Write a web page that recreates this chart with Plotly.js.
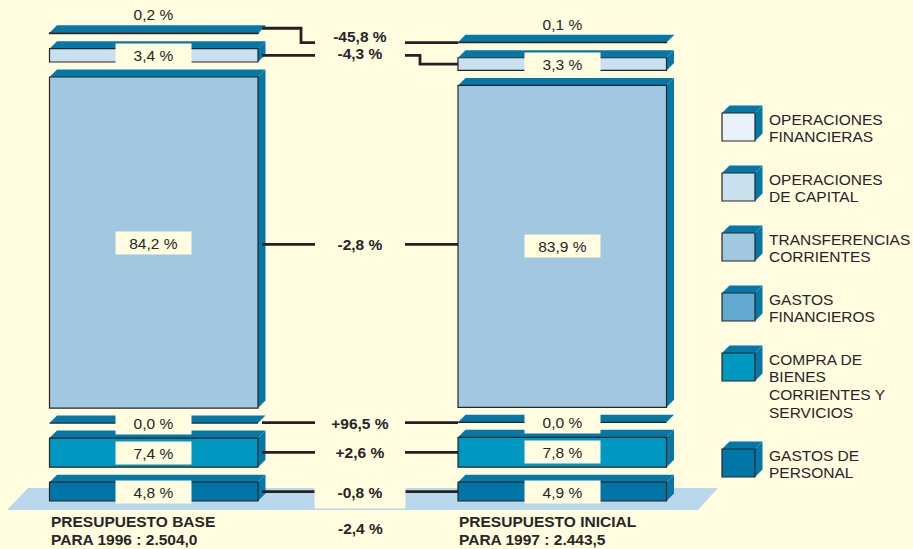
<!DOCTYPE html>
<html>
<head>
<meta charset="utf-8">
<script src="https://cdn.plot.ly/plotly-3.0.1.min.js"></script>
<style>html,body{margin:0;padding:0;background:#FFFCE0;}#chart{width:913px;height:549px;}</style>
</head>
<body>
<div id="chart"></div>
<script>
// ---------------- DATA (stack order: bottom -> top) ----------------
const categories = ['GASTOS DE PERSONAL', 'COMPRA DE BIENES CORRIENTES Y SERVICIOS', 'GASTOS FINANCIEROS',
                    'TRANSFERENCIAS CORRIENTES', 'OPERACIONES DE CAPITAL', 'OPERACIONES FINANCIERAS'];
const share1996 = [4.8, 7.4, 0.0, 84.2, 3.4, 0.2];
const share1997 = [4.9, 7.8, 0.0, 83.9, 3.3, 0.1];
const changePct = [-0.8, 2.6, 96.5, -2.8, -4.3, -45.8];
const total1996 = 2504.0;
const total1997 = 2443.5;
const totalChange = -2.4;
const columnTitles = [['PRESUPUESTO BASE', 'PARA 1996 : '], ['PRESUPUESTO INICIAL', 'PARA 1997 : ']];
// legend lines (legend is listed top -> bottom, i.e. reverse of stack order)
const legendLines = [
  ['OPERACIONES', 'FINANCIERAS'],
  ['OPERACIONES', 'DE CAPITAL'],
  ['TRANSFERENCIAS', 'CORRIENTES'],
  ['GASTOS', 'FINANCIEROS'],
  ['COMPRA DE', 'BIENES', 'CORRIENTES Y', 'SERVICIOS'],
  ['GASTOS DE', 'PERSONAL']
];

// ---------------- STYLE ----------------
const BG = '#FFFCE0';
const FACE = '#0678A8';
const FLOOR = '#B9D8EC';
const OUTLINE = '#262626';
const TXT = '#262626';
const FONT = 'Liberation Sans, Arial, Helvetica, sans-serif';
const FS = 15.5;
const fills = ['#0075A6', '#0097C1', '#62A9CF', '#A2C7E0', '#C9E0EF', '#E8F1FA']; // bottom -> top
const K = 0.157;          // px per budget unit
const BASE_PX = 501;      // pixel row of stack bottom
const U = py => (BASE_PX - py) / K;   // pixel row -> y units
const GAP = 15 / K;
const DX = 7.5, DY = 7.5 / K;
const COLW = 208.5;

function fmt(v, dec) {
  const s = Math.abs(v).toFixed(dec).split('.');
  const int = s[0].replace(/\B(?=(\d{3})+(?!\d))/g, '.');
  return (v < 0 ? '-' : '') + int + (dec ? ',' + s[1] : '');
}
const pct = v => fmt(v, 1) + ' %';
const sgnPct = v => (v > 0 ? '+' : '') + fmt(v, 1) + ' %';

const cols = [
  {x0: 49.5, shares: share1996, total: total1996},
  {x0: 458, shares: share1997, total: total1997}
];
const geo = cols.map(c => {
  let cum = 0;
  return c.shares.map(s => {
    const h = s * c.total / 100;
    const g = {u0: cum, u1: cum + h};
    cum += h + GAP;
    return g;
  });
});

const shapes = [];
const annotations = [];

// floor
shapes.push({type: 'path', xref: 'x', yref: 'y', layer: 'above',
  path: `M 7,${U(510)} L 28,${U(488)} L 718,${U(488)} L 698,${U(510)} Z`,
  fillcolor: FLOOR, line: {width: 0}});

// bars
cols.forEach((c, ci) => {
  const x0 = c.x0, x1 = c.x0 + COLW;
  geo[ci].forEach((g, i) => {
    shapes.push({type: 'path', xref: 'x', yref: 'y', layer: 'above',
      path: `M ${x1},${g.u1} L ${x1 + DX},${g.u1 + DY} L ${x1 + DX},${g.u0 + DY} L ${x1},${g.u0} Z`,
      fillcolor: FACE, line: {width: 0}});
    shapes.push({type: 'path', xref: 'x', yref: 'y', layer: 'above',
      path: `M ${x0},${g.u1} L ${x0 + DX},${g.u1 + DY} L ${x1 + DX},${g.u1 + DY} L ${x1},${g.u1} Z`,
      fillcolor: FACE, line: {width: 0}});
    shapes.push({type: 'rect', xref: 'x', yref: 'y', layer: 'above',
      x0: x0, x1: x1, y0: g.u0, y1: g.u1,
      fillcolor: fills[i], line: {color: OUTLINE, width: 1.2}});
    const top = i === geo[ci].length - 1;
    annotations.push({xref: 'x', yref: 'y', x: (x0 + x1) / 2,
      y: top ? g.u1 + DY + 11 / K : (g.u0 + g.u1) / 2,
      text: pct(c.shares[i]), showarrow: false,
      font: {family: FONT, size: FS, color: TXT},
      bgcolor: top ? 'rgba(0,0,0,0)' : BG, width: 75, height: 22, borderpad: 0,
      xanchor: 'center', yanchor: 'middle'});
  });
});

// connectors + change labels
const LX = 262, MX0 = 315, MX1 = 405, RX = 458;
const lineStyle = {color: '#222', width: 2.8};
changePct.forEach((ch, i) => {
  const yL = (geo[0][i].u0 + geo[0][i].u1) / 2;
  const yR = (geo[1][i].u0 + geo[1][i].u1) / 2;
  let paths, yLab;
  if (i === categories.length - 1) {
    const yl = yL + 5 / K;
    paths = [`M ${LX},${yl} L 301,${yl} L 301,${yR} L ${MX0},${yR}`,
             `M ${MX1},${yR} L ${RX},${yR}`];
    yLab = yR + 7 / K;
  } else if (i === categories.length - 2) {
    paths = [`M ${LX},${yL} L ${MX0},${yL}`,
             `M ${MX1},${yL} L 420,${yL} L 420,${yR} L ${RX},${yR}`];
    yLab = yL + 2 / K;
  } else {
    const ym = (yL + yR) / 2;
    paths = [`M ${LX},${ym} L ${MX0},${ym}`, `M ${MX1},${ym} L ${RX},${ym}`];
    yLab = ym;
  }
  paths.forEach(p => shapes.push({type: 'path', xref: 'x', yref: 'y', layer: 'above',
    path: p, line: lineStyle}));
  annotations.push({xref: 'x', yref: 'y', x: 360, y: yLab, text: '<b>' + sgnPct(ch) + '</b>',
    showarrow: false, font: {family: FONT, size: FS, color: TXT},
    bgcolor: i === 0 ? BG : 'rgba(0,0,0,0)', width: 90, height: i === 0 ? 32 : 18, borderpad: 0,
    xanchor: 'center', yanchor: 'middle'});
});
annotations.push({xref: 'x', yref: 'y', x: 360, y: U(528), text: '<b>' + sgnPct(totalChange) + '</b>',
  showarrow: false, font: {family: FONT, size: FS, color: TXT}, xanchor: 'center', yanchor: 'middle'});

// column titles
const totals = [total1996, total1997];
cols.forEach((c, ci) => {
  const lines = [columnTitles[ci][0], columnTitles[ci][1] + fmt(totals[ci], 1)];
  lines.forEach((t, li) => annotations.push({xref: 'x', yref: 'y', x: c.x0 - 1, y: U(521 + li * 18.3),
    text: '<b>' + t + '</b>', showarrow: false, font: {family: FONT, size: FS, color: TXT},
    xanchor: 'left', yanchor: 'middle'}));
});

// legend
let ly = 113;
legendLines.forEach((lines, li) => {
  const fi = fills.length - 1 - li;
  const x0 = 722, x1 = 755, yT = ly, yB = ly + 28;
  shapes.push({type: 'path', xref: 'x', yref: 'y', layer: 'above',
    path: `M ${x1},${U(yT)} L ${x1 + 7.5},${U(yT - 7.5)} L ${x1 + 7.5},${U(yB - 7.5)} L ${x1},${U(yB)} Z`,
    fillcolor: FACE, line: {width: 0}});
  shapes.push({type: 'path', xref: 'x', yref: 'y', layer: 'above',
    path: `M ${x0},${U(yT)} L ${x0 + 7.5},${U(yT - 7.5)} L ${x1 + 7.5},${U(yT - 7.5)} L ${x1},${U(yT)} Z`,
    fillcolor: FACE, line: {width: 0}});
  shapes.push({type: 'rect', xref: 'x', yref: 'y', layer: 'above',
    x0: x0, x1: x1, y0: U(yB), y1: U(yT), fillcolor: fills[fi], line: {color: OUTLINE, width: 1.2}});
  lines.forEach((t, k) => annotations.push({xref: 'x', yref: 'y', x: 767, y: U(yT + 6 + k * 17.7),
    text: t, showarrow: false, font: {family: FONT, size: FS, color: TXT},
    xanchor: 'left', yanchor: 'middle'}));
  ly += lines.length * 18 + 24;
});

const layout = {
  width: 913, height: 549,
  margin: {l: 0, r: 0, t: 0, b: 0, pad: 0},
  paper_bgcolor: BG, plot_bgcolor: BG,
  showlegend: false,
  xaxis: {range: [0, 913], visible: false, fixedrange: true},
  yaxis: {range: [U(549), U(0)], visible: false, fixedrange: true},
  shapes: shapes,
  annotations: annotations
};
Plotly.newPlot('chart', [{x: [], y: [], type: 'scatter', hoverinfo: 'skip'}], layout,
  {staticPlot: true, displayModeBar: false});
</script>
</body>
</html>
